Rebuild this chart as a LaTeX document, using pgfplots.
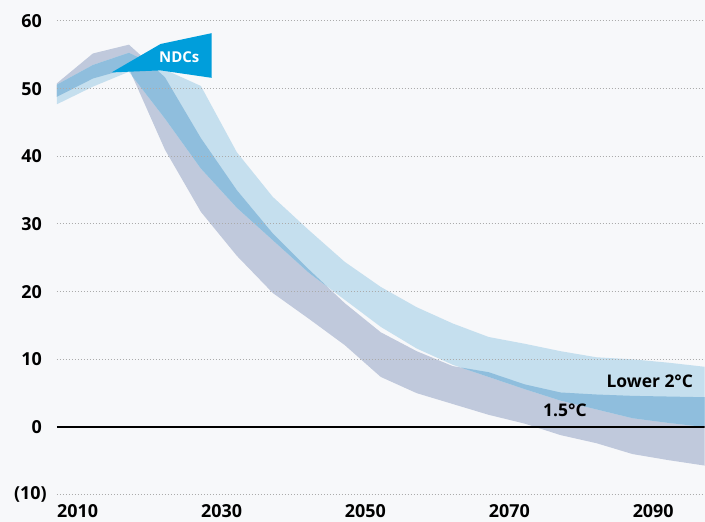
\documentclass[border=0pt]{standalone}
\usepackage{fontspec}
\setmainfont{Open Sans}
\usepackage{pgfplots}
\pgfplotsset{compat=1.18}
\definecolor{bg}{HTML}{F7F8FA}
\definecolor{greyband}{HTML}{C0C9DC}
\definecolor{lightband}{HTML}{C5DFEE}
\definecolor{overlap}{HTML}{8FBEDD}
\definecolor{ndc}{HTML}{009EDB}
\definecolor{gridc}{HTML}{ABABAB}
\begin{document}
\begin{tikzpicture}
\fill[bg] (0,0) rectangle (705bp,522bp);
\begin{axis}[
  at={(57bp,27bp)}, anchor=south west,
  width=648bp, height=474bp, scale only axis,
  xmin=2010, xmax=2100, ymin=-10, ymax=60,
  axis line style={draw=none}, major tick length=0pt,
  ymajorgrids, grid style={gridc, line width=1bp, dash pattern=on 1bp off 2bp},
  axis on top,
  xtick={2010,2030,2050,2070,2090},
  xticklabels={2010,2030,2050,2070,2090},
  ytick={-10,10,20,30,40,50,60},
  yticklabels={(10)\hspace*{-5bp},10,20,30,40,50,60},
  extra y ticks={0}, extra y tick labels={0},
  extra y tick style={grid=none},
  tick label style={font=\fontsize{18}{18}\selectfont\bfseries, text=black},
  xticklabel style={anchor=north west, inner sep=0pt, yshift=-10bp},
  yticklabel style={anchor=east, inner sep=0pt, xshift=-15bp},
  clip=true,
]
% 1.5C band (grey)
\addplot[fill=greyband, draw=none] coordinates {
 (2010,50.8) (2015,55.2) (2020,56.5) (2025,51.7) (2030,42.7) (2035,35.0) (2040,28.6) (2045,23.3) (2050,18.3) (2055,14.0) (2060,11.2) (2065,9.0) (2070,8.1) (2075,6.3) (2080,5.1) (2085,4.8) (2090,4.6) (2095,4.5) (2100,4.4)
 (2100,-5.7) (2095,-4.9) (2090,-4.0) (2085,-2.4) (2080,-1.2) (2075,0.5) (2070,1.8) (2065,3.4) (2060,5.0) (2055,7.4) (2050,12.1) (2045,16.0) (2040,19.8) (2035,25.3) (2030,31.8) (2025,41.0) (2020,53.0) (2015,51.5) (2010,48.8)
};
% Lower 2C band (light blue)
\addplot[fill=lightband, draw=none] coordinates {
 (2010,50.6) (2015,53.5) (2020,55.3) (2025,52.8) (2030,50.4) (2035,40.6) (2040,34.0) (2045,29.1) (2050,24.4) (2055,20.7) (2060,17.7) (2065,15.3) (2070,13.3) (2075,12.3) (2080,11.2) (2085,10.3) (2090,10.0) (2095,9.5) (2100,8.9)
 (2100,0.0) (2095,0.6) (2090,1.3) (2085,2.6) (2080,3.9) (2075,5.6) (2070,7.4) (2065,9.2) (2060,11.6) (2055,14.8) (2050,18.8) (2045,22.8) (2040,27.6) (2035,32.4) (2030,38.2) (2025,45.6) (2020,52.5) (2015,50.3) (2010,47.7)
};
% overlap regions
\addplot[fill=overlap, draw=none] coordinates {
 (2010,50.6) (2015,53.5) (2020,55.3) (2022.6,54.0) (2025,51.7) (2030,42.7) (2035,35.0) (2040,28.6) (2045,23.3) (2047.5,20.8)
 (2045,22.8) (2040,27.6) (2035,32.4) (2030,38.2) (2025,45.6) (2020.5,51.8) (2020,53.0) (2015,51.5) (2010,48.8)
};
\addplot[fill=overlap, draw=none] coordinates {
 (2066.1,8.8) (2070,8.1) (2075,6.3) (2080,5.1) (2085,4.8) (2090,4.6) (2095,4.5) (2100,4.4)
 (2100,0.0) (2095,0.6) (2090,1.3) (2085,2.6) (2080,3.9) (2075,5.6) (2070,7.4)
};
% NDCs wedge
\addplot[fill=ndc, draw=none] coordinates {
 (2017.6,52.4) (2024.4,56.6) (2031.5,58.2) (2031.5,51.6) (2024.4,52.7)
};
% zero line
\addplot[black, line width=2.5bp] coordinates {(2010,0) (2100,0)};
\node[text=white, font=\fontsize{15}{15}\selectfont\bfseries] at (axis cs:2027.0,54.6) {NDCs};
\node[font=\fontsize{17.5}{17.5}\selectfont\bfseries] at (axis cs:2092.4,6.7) {Lower 2°C};
\node[font=\fontsize{17.5}{17.5}\selectfont\bfseries] at (axis cs:2080.6,2.4) {1.5°C};
\end{axis}
\end{tikzpicture}
\end{document}
